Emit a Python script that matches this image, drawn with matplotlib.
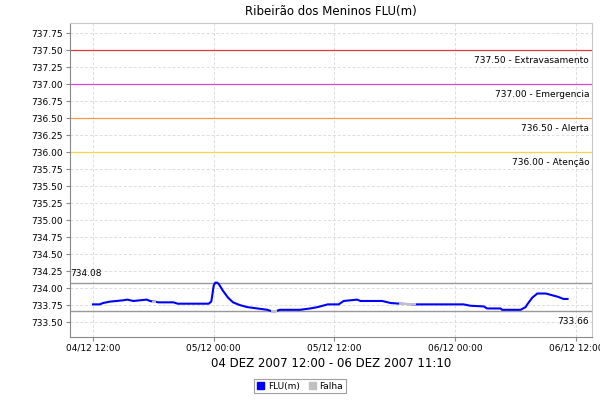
import pandas as pd
import matplotlib
matplotlib.use('Agg')
import matplotlib.pyplot as plt
import matplotlib.dates as mdates
from matplotlib.patches import Patch

# FLU(m) readings
times = ['2007-12-04 12:00', '2007-12-04 12:40', '2007-12-04 13:00', '2007-12-04 13:40',
         '2007-12-04 15:00', '2007-12-04 15:25', '2007-12-04 16:00', '2007-12-04 16:40',
         '2007-12-04 17:20', '2007-12-04 17:40', '2007-12-04 18:00', '2007-12-04 18:10',
         '2007-12-04 18:30', '2007-12-04 20:00', '2007-12-04 20:25', '2007-12-04 23:30',
         '2007-12-04 23:45', '2007-12-04 23:50', '2007-12-05 00:00', '2007-12-05 00:10',
         '2007-12-05 00:20', '2007-12-05 00:30', '2007-12-05 00:55', '2007-12-05 01:25',
         '2007-12-05 01:55', '2007-12-05 02:35', '2007-12-05 03:20', '2007-12-05 04:20',
         '2007-12-05 05:20', '2007-12-05 05:45', '2007-12-05 06:10', '2007-12-05 06:35',
         '2007-12-05 08:35', '2007-12-05 09:35', '2007-12-05 10:20', '2007-12-05 11:20',
         '2007-12-05 12:25', '2007-12-05 12:55', '2007-12-05 14:15', '2007-12-05 14:35',
         '2007-12-05 16:45', '2007-12-05 17:35', '2007-12-05 18:30', '2007-12-05 20:00',
         '2007-12-06 00:50', '2007-12-06 01:30', '2007-12-06 02:50', '2007-12-06 03:10',
         '2007-12-06 04:30', '2007-12-06 04:40', '2007-12-06 06:30', '2007-12-06 07:00',
         '2007-12-06 07:10', '2007-12-06 07:40', '2007-12-06 08:10', '2007-12-06 09:00',
         '2007-12-06 09:30', '2007-12-06 10:15', '2007-12-06 10:45', '2007-12-06 11:10']
flu = [733.76, 733.76, 733.78, 733.80,
       733.82, 733.83, 733.81, 733.82,
       733.83, 733.81, 733.80, 733.80,
       733.79, 733.79, 733.77, 733.77,
       733.80, 733.87, 734.04, 734.08,
       734.08, 734.06, 733.96, 733.86,
       733.79, 733.75, 733.72, 733.70,
       733.68, 733.66, 733.66, 733.68,
       733.68, 733.70, 733.72, 733.76,
       733.76, 733.81, 733.83, 733.81,
       733.81, 733.78, 733.77, 733.76,
       733.76, 733.74, 733.73, 733.70,
       733.70, 733.68, 733.68, 733.72,
       733.76, 733.86, 733.92, 733.92,
       733.90, 733.87, 733.84, 733.84]

# gaps (Falha)
falha_start = ['2007-12-04 18:00', '2007-12-05 05:45', '2007-12-05 18:30']
falha_end = ['2007-12-04 18:10', '2007-12-05 06:10', '2007-12-05 20:00']
falha_val = [733.80, 733.66, 733.765]

limits = [737.50, 737.00, 736.50, 736.00]
limit_names = ['Extravasamento', 'Emergencia', 'Alerta', 'Atenção']
limit_colors = ['#ee3535', '#dd44dd', '#f29a45', '#f5d54a']

vmax = 734.08
vmin = 733.66

t = pd.to_datetime(times)

fig = plt.figure(figsize=(6, 4), dpi=100)
ax = fig.add_axes([0.1167, 0.1575, 0.87, 0.785])

for v, name, c in zip(limits, limit_names, limit_colors):
    ax.axhline(v, color=c, lw=0.9, zorder=2)
    ax.annotate('%.2f - %s' % (v, name), xy=(1, v), xycoords=('axes fraction', 'data'),
                xytext=(-2, -4), textcoords='offset points', ha='right', va='top', fontsize=6.5)

ax.axhline(vmax, color='#999999', lw=1.0, zorder=2)
ax.axhline(vmin, color='#999999', lw=1.0, zorder=2)
ax.annotate('%.2f' % vmax, xy=(0, vmax), xycoords=('axes fraction', 'data'),
            xytext=(0, 3), textcoords='offset points', ha='left', va='bottom', fontsize=6.5)
ax.annotate('%.2f' % vmin, xy=(1, vmin), xycoords=('axes fraction', 'data'),
            xytext=(-2, -4), textcoords='offset points', ha='right', va='top', fontsize=6.5)

ax.plot(t, flu, color='#0000ff', lw=1.5, zorder=3)
for s, e, v in zip(falha_start, falha_end, falha_val):
    ax.plot(pd.to_datetime([s, e]), [v, v], color='#c0c0c0', lw=1.5, zorder=4)

ax.set_xlim(pd.Timestamp('2007-12-04 09:43'), pd.Timestamp('2007-12-06 13:36'))
ax.set_ylim(733.28, 737.90)
ax.set_yticks([733.5 + 0.25 * i for i in range(18)])
ax.yaxis.set_major_formatter(plt.FuncFormatter(lambda x, loc: '%.2f' % x))
ax.xaxis.set_major_locator(mdates.HourLocator(byhour=[0, 12]))
ax.xaxis.set_major_formatter(mdates.DateFormatter('%d/%m %H:%M'))
ax.tick_params(labelsize=6.5, length=3, color='#888888', pad=2)
ax.grid(True, color='#dddddd', ls=(0, (3, 2)), lw=0.7)
ax.set_axisbelow(True)

ax.spines['left'].set_color('#888888')
ax.spines['bottom'].set_color('#888888')
ax.spines['top'].set_color('#c8c8c8')
ax.spines['right'].set_color('#c8c8c8')

ax.set_title('Ribeirão dos Meninos FLU(m)', fontsize=8.5, pad=6)
ax.set_xlabel('04 DEZ 2007 12:00 - 06 DEZ 2007 11:10', fontsize=8.5, labelpad=3)

handles = [Patch(color='#0000ff', label='FLU(m)'), Patch(color='#c0c0c0', label='Falha')]
leg = fig.legend(handles=handles, loc='lower center', bbox_to_anchor=(0.5, 0.005), ncol=2,
                 fontsize=6.5, fancybox=False, edgecolor='#888888', handlelength=0.8,
                 handleheight=0.8, handletextpad=0.4, columnspacing=1.0, borderpad=0.3)
leg.get_frame().set_linewidth(0.8)

fig.savefig('out.png', dpi=100)
